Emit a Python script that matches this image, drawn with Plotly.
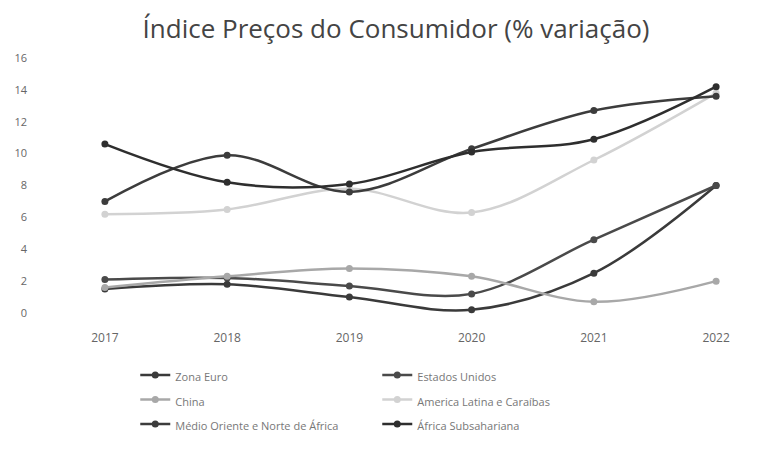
import plotly.graph_objects as go

years = ["2017", "2018", "2019", "2020", "2021", "2022"]
series_names = [
    "Zona Euro",
    "Estados Unidos",
    "China",
    "America Latina e Caraíbas",
    "Médio Oriente e Norte de África",
    "África Subsahariana",
]
zona_euro = [1.5, 1.8, 1.0, 0.2, 2.5, 8.0]
estados_unidos = [2.1, 2.2, 1.7, 1.2, 4.6, 8.0]
china = [1.6, 2.3, 2.8, 2.3, 0.7, 2.0]
america_latina = [6.2, 6.5, 7.8, 6.3, 9.6, 13.8]
medio_oriente = [7.0, 9.9, 7.6, 10.3, 12.7, 13.6]
africa_subsahariana = [10.6, 8.2, 8.1, 10.1, 10.9, 14.2]
y_ticks = [0, 2, 4, 6, 8, 10, 12, 14, 16]

values = [zona_euro, estados_unidos, china, america_latina, medio_oriente, africa_subsahariana]
colors = ["#3a3a3a", "#4a4a4a", "#a8a8a8", "#d2d2d2", "#3c3c3c", "#2e2e2e"]

fig = go.Figure()
xi = list(range(len(years)))
for name, vals, col in zip(series_names, values, colors):
    fig.add_trace(go.Scatter(
        x=xi, y=vals, name="<span style='font-size:11px'>" + name + "</span>",
        mode="lines+markers",
        line=dict(color=col, width=2.5, shape="spline", smoothing=1),
        marker=dict(color=col, size=7),
        cliponaxis=False,
    ))

fig.update_layout(
    width=776, height=456,
    paper_bgcolor="white", plot_bgcolor="white",
    margin=dict(l=48, r=19, t=50, b=151),
    font=dict(family="Open Sans, sans-serif", color="#666"),
    title=dict(text="Índice Preços do Consumidor (% variação)",
               x=0.5, xanchor="center", y=0.955, yanchor="middle",
               font=dict(size=26, color="#444")),
    xaxis=dict(range=[-0.4, 5.4], tickmode="array", tickvals=xi, ticktext=years,
               showgrid=False, zeroline=False, showline=False, automargin=False,
               ticks="outside", ticklen=14, tickcolor="white",
               tickfont=dict(size=12, color="#666")),
    yaxis=dict(range=[0, 16], tickmode="array", tickvals=y_ticks,
               showgrid=False, zeroline=False, showline=False, automargin=False,
               ticklabelstandoff=28,
               tickfont=dict(size=11, color="#666")),
    legend=dict(orientation="h", xref="container", yref="container",
                x=0.164, xanchor="left", y=0.233, yanchor="top",
                entrywidth=197, entrywidthmode="pixels", itemwidth=30,
                font=dict(size=16.5, color="#777"), tracegroupgap=0),
    showlegend=True,
)

fig.write_html("out.html")
